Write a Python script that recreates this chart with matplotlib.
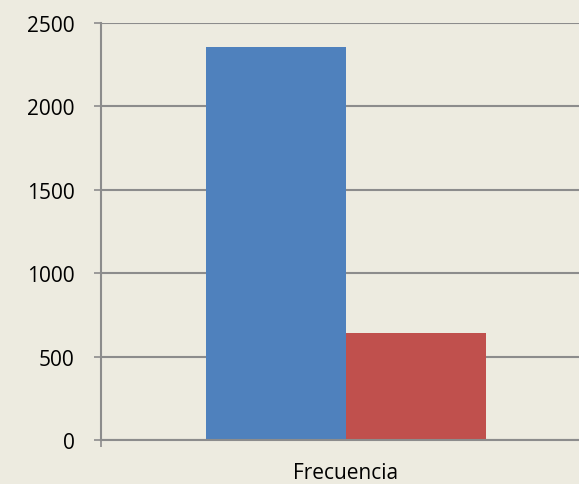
import matplotlib.pyplot as plt

categories = ["Frecuencia"]
serie_1 = [2356]
serie_2 = [641]

bg = "#EDEBE0"
grid_col = "#8C8C8C"

plt.rcParams["font.family"] = ["Open Sans", "DejaVu Sans"]

fig = plt.figure(figsize=(5.79, 4.85), dpi=100, facecolor=bg)
ax = fig.add_axes([0.1744, 0.0907, 0.846, 0.8598], facecolor=bg)

w = 0.286
x = range(len(categories))
ax.bar([i - w / 2 for i in x], serie_1, width=w, color="#4F81BD", zorder=3)
ax.bar([i + w / 2 for i in x], serie_2, width=w, color="#C0504D", zorder=3)

ax.set_xlim(-0.5, 0.5)
ax.set_ylim(0, 2500)
ax.set_yticks(range(0, 2501, 500))
ax.yaxis.grid(True, color=grid_col, linewidth=1.5, zorder=0)

ax.set_xticks(list(x))
ax.set_xticklabels(categories)
ax.set_xticks([-0.5, 0.5], minor=True)
ax.tick_params(axis="x", which="major", length=0, pad=16, labelsize=15)
ax.tick_params(axis="x", which="minor", length=5, width=1.2, color=grid_col, direction="out")
ax.tick_params(axis="y", length=5, width=1.2, color=grid_col, pad=14, labelsize=15)

for s in ["top", "right"]:
    ax.spines[s].set_visible(False)
for s in ["left", "bottom"]:
    ax.spines[s].set_color(grid_col)
    ax.spines[s].set_linewidth(1.5)
ax.spines["bottom"].set_zorder(4)

fig.savefig("out.png", dpi=100, facecolor=bg)
